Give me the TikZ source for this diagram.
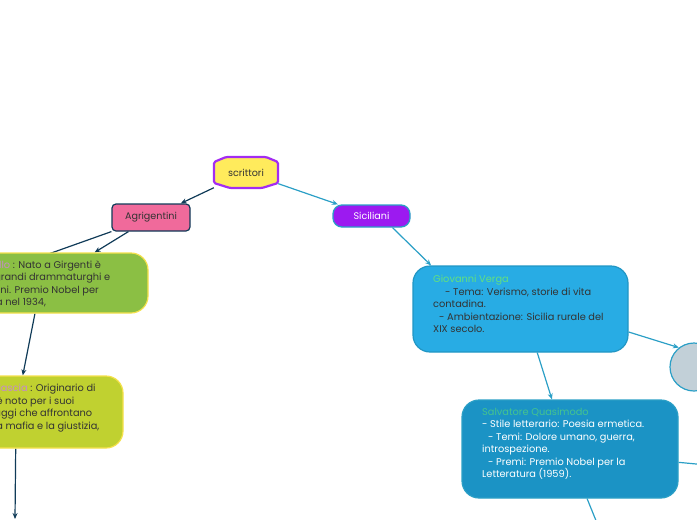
\documentclass[tikz,border=0pt]{standalone}
\usepackage{fontspec}
\setmainfont{Poppins}
\usetikzlibrary{arrows.meta,backgrounds}
\definecolor{ink}{HTML}{333333}
\definecolor{navy}{HTML}{103B58}
\definecolor{teal2}{HTML}{2B9FC6}
\definecolor{yell}{HTML}{FFEB5C}
\definecolor{purp}{HTML}{A32CF2}
\definecolor{pinkf}{HTML}{F06A9B}
\definecolor{sicf}{HTML}{9C1AF0}
\definecolor{pirf}{HTML}{8BBF44}
\definecolor{yline}{HTML}{F5E14C}
\definecolor{lilac}{HTML}{C58BC9}
\definecolor{scif}{HTML}{C0D130}
\definecolor{verf}{HTML}{28ACE4}
\definecolor{verl}{HTML}{2196C4}
\definecolor{vern}{HTML}{63E07F}
\definecolor{quaf}{HTML}{1B93C5}
\definecolor{quan}{HTML}{45C48E}
\definecolor{grig}{HTML}{C2D0D8}
\begin{document}
\begin{tikzpicture}[x=1pt,y=-1pt]
\tikzstyle{nav}=[draw=navy, line width=1.2pt, -{Stealth[length=6pt,width=5pt]}]
\tikzstyle{tea}=[draw=teal2, line width=1.2pt, -{Stealth[length=6pt,width=5pt]}]
\tikzstyle{lin}=[draw=teal2, line width=1.2pt]
\tikzstyle{txt}=[inner sep=0pt, align=left, anchor=base west, text=ink, font=\fontsize{9.8}{12.5}\selectfont]
\tikzstyle{bigbox}=[inner sep=0pt, rounded corners=17pt, line width=1.2pt]
\tikzstyle{small}=[inner sep=0pt, text=ink, font=\fontsize{9.6}{11}\selectfont]
\useasboundingbox (0,0) rectangle (697,520);
\clip (0,0) rectangle (697,520);
%scrittori
\filldraw[fill=yell, draw=purp, line width=2.2pt, rounded corners=1.5pt] (214,162) -- (226,157) -- (266,157) -- (278,162) -- (278,183) -- (262,188) -- (230,188) -- (214,183) -- cycle;
\node[small, minimum width=64pt, minimum height=31pt] (scr) at (246,172.5) {scrittori};
%Agrigentini
\node[small, fill=pinkf, draw=navy, line width=1.2pt, rounded corners=4pt, minimum width=78pt, minimum height=27pt] (agr) at (151,217.5) {Agrigentini};
%Siciliani
\node[small, fill=sicf, draw=teal2, line width=1.3pt, rounded corners=9pt, minimum width=77pt, minimum height=22pt, text=white] (sic) at (371.5,216) {Siciliani};
%Pirandello
\node[bigbox, fill=pirf, draw=yline, minimum width=238pt, minimum height=60pt] (pir) at (29,283) {};
\node[txt] (pirt) at (-63,305.7) {{\color{lilac}Luigi Pirandello} : Nato a Girgenti è\\uno dei più grandi drammaturghi e\\scrittori italiani. Premio Nobel per\\la Letteratura nel 1934,};
%Sciascia
\node[bigbox, fill=scif, draw=yline, minimum width=203pt, minimum height=72pt] (sci) at (21.5,412) {};
\node[txt] (scit) at (-62,429.3) {{\color{lilac}Leonardo Sciascia} : Originario di\\Racalmuto, è noto per i suoi\\romanzi e saggi che affrontano\\temi come la mafia e la giustizia,};
%Verga
\node[bigbox, fill=verf, draw=verl, minimum width=215pt, minimum height=86pt] (ver) at (520.5,309) {};
\node[txt] (vert) at (433,332.7) {{\color{vern}Giovanni Verga}\\\hspace*{12pt}- Tema: Verismo, storie di vita\\contadina.\\\hspace*{6pt}- Ambientazione: Sicilia rurale del\\XIX secolo.};
%Quasimodo
\node[bigbox, fill=quaf, draw=teal2, minimum width=216pt, minimum height=98pt] (qua) at (570,449) {};
\node[txt, text=white] (quat) at (482,477.5) {{\color{quan}Salvatore Quasimodo}\\- Stile letterario: Poesia ermetica.\\\hspace*{6pt}- Temi: Dolore umano, guerra,\\introspezione.\\\hspace*{6pt}- Premi: Premio Nobel per la\\Letteratura (1959).};
%grigio
\node[circle, fill=grig, draw=teal2, line width=1.2pt, inner sep=0pt, minimum size=48pt] (gri) at (694,367) {};
%connettori
\coordinate (agrl) at (-40,285.5);
\coordinate (scib) at (15,519);
\coordinate (quar) at (760,470);
\coordinate (quab) at (612,560);
\begin{scope}[on background layer]
\draw[nav] (scr) -- (agr);
\draw[tea] (scr) -- (sic);
\draw[nav] (agr.212) -- (pir.25);
\draw[navy, line width=1.2pt] (agr.south west) -- (agrl);
\draw[nav] (pir.-79) -- (sci.88);
\draw[nav] (sci.-99) -- (scib);
\draw[tea] (sic.-29) -- (ver.154);
\draw[tea] (ver.-12) -- (gri.128);
\draw[tea] (ver.-69) -- (qua.110);
\draw[lin] (qua.-7) -- (quar);
\draw[lin] (qua.-71) -- (quab);
\end{scope}
\end{tikzpicture}
\end{document}
